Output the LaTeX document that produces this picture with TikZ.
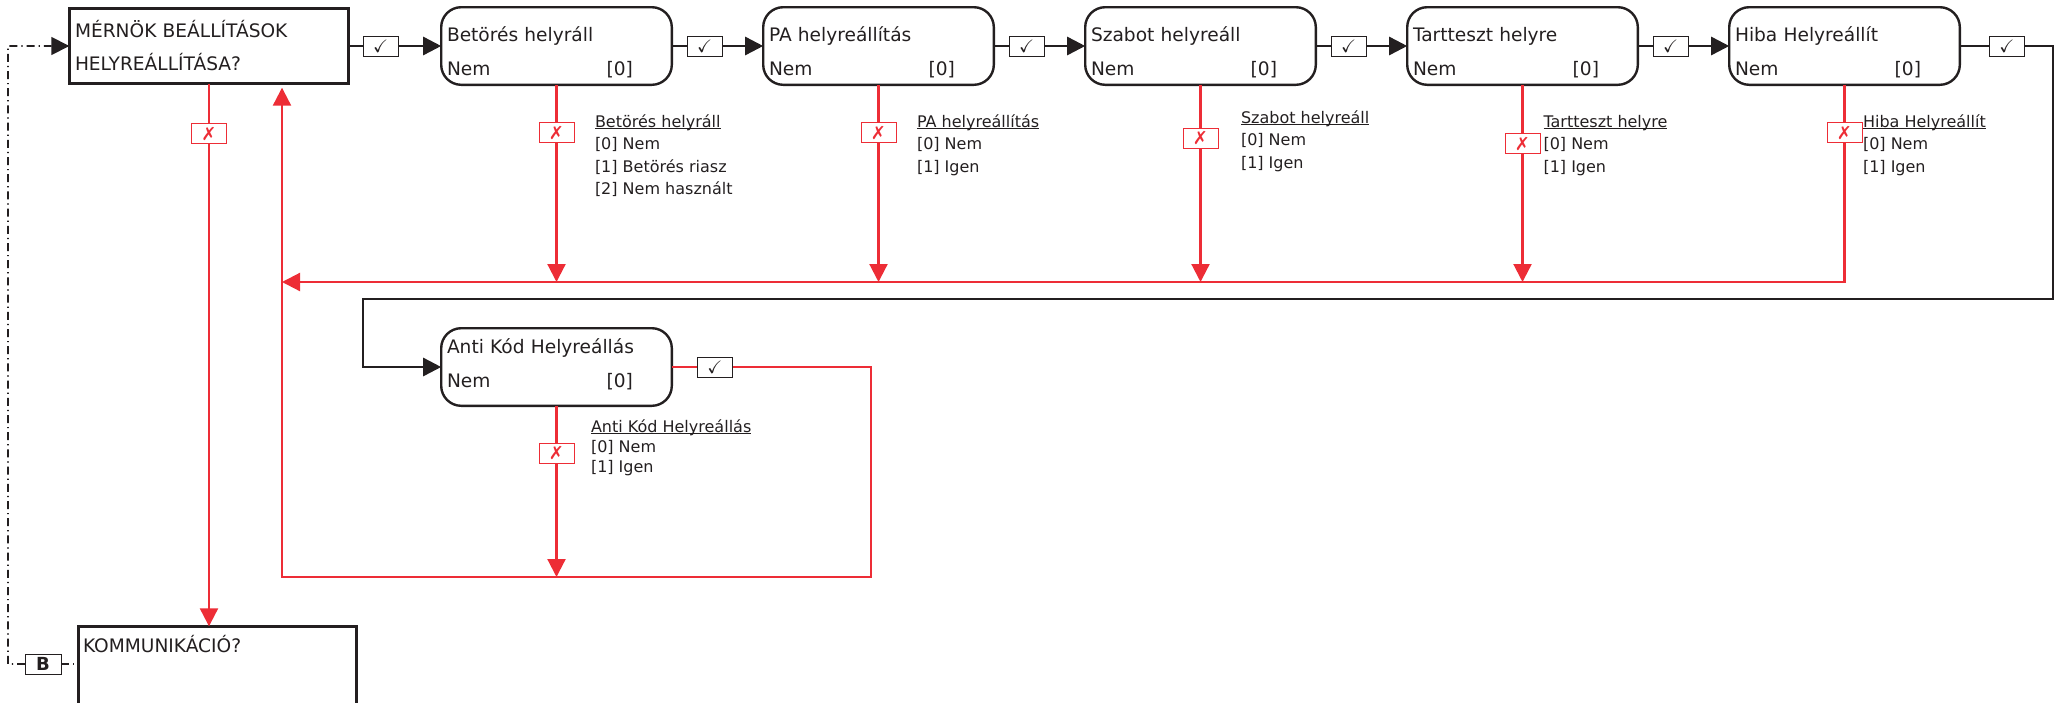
\documentclass[tikz,border=0pt]{standalone}
\usepackage{amssymb}
\usepackage{fontspec}
\setmainfont{DejaVu Sans}
\usetikzlibrary{positioning, arrows.meta}
\definecolor{xred}{HTML}{ED2D36}
\definecolor{ink}{HTML}{231F20}
\newcommand{\undl}[1]{\setbox0\hbox{#1}\rlap{\rule[-0.9pt]{\wd0}{0.5pt}}\box0}
\newcommand{\valrow}[2]{\makebox[93pt][l]{#1\hfill#2}}

\begin{document}
\begin{tikzpicture}[>={Triangle[length=9pt,width=9pt]}, node distance=45.7pt, text=ink,
    every node/.style={outer sep=0pt},
    menubox/.style={draw=ink, line width=1.3pt, minimum width=139.7pt, minimum height=37.7pt,
        inner xsep=2.85pt, inner ysep=0pt, text width=134pt, align=left,
        text height=9pt, text depth=18pt, font=\fontsize{9.3pt}{16.5pt}\selectfont},
    optbox/.style={draw=ink, line width=1.2pt, rounded corners=10pt, minimum width=115.3pt,
        minimum height=38.8pt, inner xsep=2.9pt, inner ysep=0pt, text width=109.5pt, align=left,
        text height=12.5pt, text depth=17.5pt, font=\fontsize{9.3pt}{17pt}\selectfont},
    flow/.style={draw=ink, line width=1.3pt},
    nflow/.style={draw=xred, line width=1.1pt},
    linkline/.style={draw=ink, line width=0.8pt, dash pattern=on 4pt off 2pt on 0.6pt off 2pt},
    okbox/.style={draw=ink, fill=white, line width=0.5pt, minimum width=17.5pt,
        minimum height=10pt, inner sep=0pt, font=\fontsize{9pt}{9pt}\selectfont},
    xbox/.style={draw=xred, text=xred, fill=white, line width=0.5pt, minimum width=17.5pt,
        minimum height=10pt, inner sep=0pt, font=\fontsize{9pt}{9pt}\selectfont},
    optlist/.style={anchor=north west, inner sep=0pt, align=left,
        font=\fontsize{8pt}{11.25pt}\selectfont},
    ]
\useasboundingbox (0,0) rectangle (1032pt,-351pt);

% fixed corners of the return lines
\coordinate (hl) at (141pt,-141pt);
\coordinate (al) at (141pt,-288.5pt);
\coordinate (ar) at (435.5pt,-288.5pt);
\coordinate (rc) at (1026.5pt,-149.5pt);
\coordinate (lc) at (181.5pt,-149.5pt);
\coordinate (ddc) at (4pt,-23pt);

% menu boxes
\node[menubox, anchor=north west] (m) at (34.65pt,-4.15pt) {MÉRNÖK BEÁLLÍTÁSOK\\HELYREÁLLÍTÁSA?};
\node[menubox, anchor=north west, minimum width=139.2pt, text width=134.5pt, inner xsep=2.35pt,
      minimum height=0pt, inner ysep=3.85pt, text depth=60pt] (kom) at (39.15pt,-313.15pt) {KOMMUNIKÁCIÓ?};

% option boxes
\node[optbox, right=46.25pt of m] (bet) {Betörés helyráll\\\valrow{Nem}{[0]}};
\node[optbox, right=of bet] (pa) {PA helyreállítás\\\valrow{Nem}{[0]}};
\node[optbox, right=of pa] (szab) {Szabot helyreáll\\\valrow{Nem}{[0]}};
\node[optbox, right=of szab] (tart) {Tartteszt helyre\\\valrow{Nem}{[0]}};
\node[optbox, right=of tart] (hiba) {Hiba Helyreállít\\\valrow{Nem}{[0]}};
\node[optbox, below=121.7pt of bet, text height=8pt, text depth=22pt] (anti) {Anti Kód Helyreállás\\\valrow{Nem}{[0]}};

% option lists
\node[optlist] (betinfo) at ([xshift=19.25pt,yshift=-14.1pt]bet.south)
    {\rule{0pt}{7pt}\undl{Betörés helyráll}\\{}[0] Nem\\{}[1] Betörés riasz\\{}[2] Nem használt};
\node[optlist] (painfo) at ([xshift=19.25pt,yshift=-14.1pt]pa.south)
    {\rule{0pt}{7pt}\undl{PA helyreállítás}\\{}[0] Nem\\{}[1] Igen};
\node[optlist] (szabinfo) at ([xshift=20.25pt,yshift=-12.1pt]szab.south)
    {\rule{0pt}{7pt}\undl{Szabot helyreáll}\\{}[0] Nem\\{}[1] Igen};
\node[optlist] (tartinfo) at ([xshift=10.5pt,yshift=-14.1pt]tart.south)
    {\rule{0pt}{7pt}\undl{Tartteszt helyre}\\{}[0] Nem\\{}[1] Igen};
\node[optlist] (hibainfo) at ([xshift=9.25pt,yshift=-14.1pt]hiba.south)
    {\rule{0pt}{7pt}\undl{Hiba Helyreállít}\\{}[0] Nem\\{}[1] Igen};
\node[optlist, font=\fontsize{8pt}{10pt}\selectfont] (antiinfo) at ([xshift=17.25pt,yshift=-6.1pt]anti.south)
    {\rule{0pt}{7pt}\undl{Anti Kód Helyreállás}\\{}[0] Nem\\{}[1] Igen};

\node[draw=ink, fill=white, line width=0.5pt, minimum width=18pt, minimum height=10pt, inner sep=0pt,
      font=\bfseries\fontsize{9pt}{9pt}\selectfont] (bb) at (21.5pt,-332pt) {B};

% yes chain
\draw[flow,->] (m) -- node[okbox, pos=.344] {$\checkmark$} (bet);
\foreach \a/\b in {bet/pa, pa/szab, szab/tart, tart/hiba}
    \draw[flow,->] (\a) -- node[okbox, pos=.36] {$\checkmark$} (\b);
\draw[flow,->] (hiba.east) -| node[okbox, pos=.253] {$\checkmark$} (rc) -- (lc) |- (anti.west);

% no branches
\draw[nflow,->] (m.south) -- node[xbox, pos=.092] {✗} (m.south |- kom.north);
\foreach \n/\p in {bet/.244, pa/.244, szab/.27, tart/.30}
    \draw[nflow,->] (\n.south) -- node[xbox, pos=\p] {✗} (\n.south |- hl);
\draw[nflow,->] (hiba.south) -- node[xbox, pos=.244] {✗} (hiba.south |- hl) -- (hl);
\draw[nflow,->] (anti.south) -- node[xbox, pos=.276] {✗} (anti.south |- al);
\draw[nflow,->,shorten >=2pt] (anti.east) -| node[okbox, pos=.108] {$\checkmark$} (ar) -- (al) -- (al |- m.south);

% link to next menu
\draw[linkline] (bb.east) -- (bb.east -| kom.west);
\draw[linkline,->] (bb.west) -| (ddc) -- (m.west);
\end{tikzpicture}
\end{document}
